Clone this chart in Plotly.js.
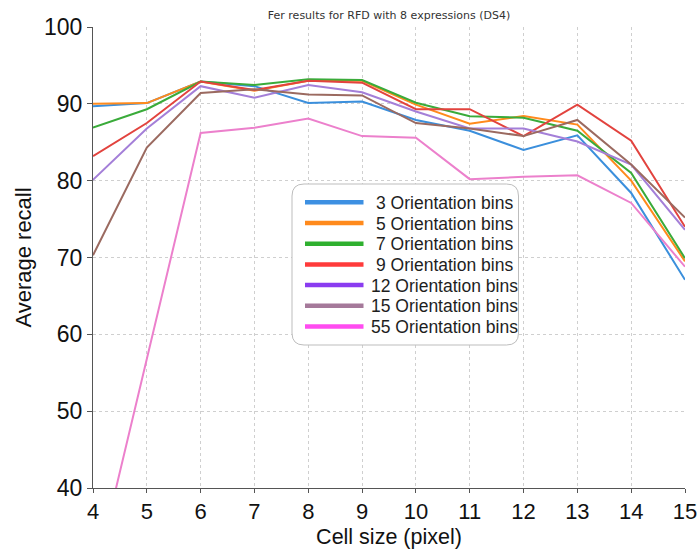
<!DOCTYPE html>
<html>
<head>
<meta charset="utf-8">
<script src="https://cdn.plot.ly/plotly-3.0.1.min.js"></script>
<style>
  html, body { margin: 0; padding: 0; background: #fff; }
  #chart { width: 698px; height: 551px; }
</style>
</head>
<body>
<div id="chart"></div>
<script>
// Cell sizes (pixels) on the x axis
const cellSizes = [4, 5, 6, 7, 8, 9, 10, 11, 12, 13, 14, 15];

// Average recall per number of orientation bins
const bins3  = [89.7, 90.1, 92.9, 92.3, 90.1, 90.3, 87.9, 86.5, 84.0, 85.9, 78.4, 67.1];
const bins5  = [90.0, 90.1, 92.9, 91.7, 93.0, 93.0, 89.9, 87.4, 88.4, 87.3, 80.0, 69.5];
const bins7  = [86.9, 89.3, 92.9, 92.45, 93.2, 93.1, 90.15, 88.4, 88.2, 86.5, 81.0, 69.9];
const bins9  = [83.2, 87.5, 92.9, 91.8, 93.0, 92.75, 89.3, 89.3, 85.8, 89.9, 85.2, 74.0];
const bins12 = [80.1, 86.8, 92.3, 90.8, 92.45, 91.5, 89.0, 86.8, 86.8, 85.1, 82.1, 73.6];
const bins15 = [70.3, 84.3, 91.4, 91.9, 91.2, 91.1, 87.5, 86.8, 85.8, 87.9, 82.1, 75.2];
const bins55 = [27.4, 56.8, 86.2, 86.9, 88.1, 85.8, 85.6, 80.2, 80.5, 80.7, 77.1, 68.8];

const seriesNames = ['3 Orientation bins', '5 Orientation bins', '7 Orientation bins',
  '9 Orientation bins', '12 Orientation bins', '15 Orientation bins', '55 Orientation bins'];
const seriesValues = [bins3, bins5, bins7, bins9, bins12, bins15, bins55];

// Plotted line colours and the (brighter) key swatch colours
const lineColors = ['#3b8fdc', '#ff8a1c', '#3aab3a', '#e2433e', '#a47fd8', '#9b6a60', '#ec80cc'];
const keyColors  = ['#3d90e2', '#ff8a1c', '#2fb02f', '#ff3b3b', '#8a3cf0', '#a5799a', '#ff4cf0'];

const traces = seriesValues.map((vals, i) => ({
  x: cellSizes, y: vals, type: 'scatter', mode: 'lines', name: seriesNames[i],
  line: { color: lineColors[i], width: 2 },
  showlegend: false, hoverinfo: 'x+y'
}));

// Pixel -> paper helpers for the hand-placed key
const M = { l: 93, r: 13, t: 27, b: 63 };
const plotW = 698 - M.l - M.r, plotH = 551 - M.t - M.b;
const px = v => (v - M.l) / plotW;
const py = v => 1 - (v - M.t) / plotH;

// Rounded key box
const bx0 = px(292), bx1 = px(518.5), by1 = py(184), by0 = py(345);
const rx = 12 / plotW, ry = 12 / plotH;
const boxPath = `M ${bx0 + rx},${by1} L ${bx1 - rx},${by1} Q ${bx1},${by1} ${bx1},${by1 - ry} ` +
  `L ${bx1},${by0 + ry} Q ${bx1},${by0} ${bx1 - rx},${by0} L ${bx0 + rx},${by0} ` +
  `Q ${bx0},${by0} ${bx0},${by0 + ry} L ${bx0},${by1 - ry} Q ${bx0},${by1} ${bx0 + rx},${by1} Z`;

const shapes = [{
  type: 'path', xref: 'paper', yref: 'paper', path: boxPath,
  fillcolor: '#fff', line: { color: '#bdbdbd', width: 1 }, layer: 'above'
}];
const annotations = [];
seriesNames.forEach((name, i) => {
  const rowY = 202.3 + 20.7 * i;
  shapes.push({
    type: 'line', xref: 'paper', yref: 'paper', layer: 'above',
    x0: px(305), x1: px(363.5), y0: py(rowY), y1: py(rowY),
    line: { color: keyColors[i], width: 4.5 }
  });
  annotations.push({
    xref: 'paper', yref: 'paper', x: px(444.6), y: py(rowY + 0.5),
    xanchor: 'center', yanchor: 'middle', showarrow: false,
    text: name, font: { size: 17.5, color: '#1e1e1e' }
  });
});

const layout = {
  width: 698, height: 551,
  margin: M,
  paper_bgcolor: '#fff', plot_bgcolor: '#fff',
  font: { family: 'Liberation Sans, Arial, sans-serif', color: '#111' },
  showlegend: false,
  title: {
    text: 'Fer results for RFD with 8 expressions (DS4)',
    font: { family: 'DejaVu Sans, sans-serif', size: 11, color: '#333' },
    x: 0.5, xref: 'paper', xanchor: 'center', y: 0.972, yanchor: 'middle'
  },
  xaxis: {
    range: [4, 15], tickvals: cellSizes, ticktext: cellSizes.map(String),
    showgrid: true, gridcolor: '#cfcfcf', griddash: '3px,3px', gridwidth: 1,
    showline: true, linecolor: '#555', linewidth: 1,
    ticks: 'outside', ticklen: 4, tickcolor: '#555',
    tickfont: { size: 22, color: '#111' }, zeroline: false,
    title: { text: 'Cell size (pixel)', font: { size: 21.5, color: '#111' }, standoff: 5 }
  },
  yaxis: {
    range: [40, 100], tickvals: [40, 50, 60, 70, 80, 90, 100],
    showgrid: true, gridcolor: '#cfcfcf', griddash: '3px,3px', gridwidth: 1,
    showline: true, linecolor: '#555', linewidth: 1,
    ticks: 'outside', ticklen: 5, tickcolor: '#555',
    tickfont: { size: 23, color: '#111' }, zeroline: false,
    title: { text: 'Average recall', font: { size: 22, color: '#111' }, standoff: 6 }
  },
  shapes: shapes,
  annotations: annotations
};

Plotly.newPlot('chart', traces, layout, { displayModeBar: false, staticPlot: true });
</script>
</body>
</html>
